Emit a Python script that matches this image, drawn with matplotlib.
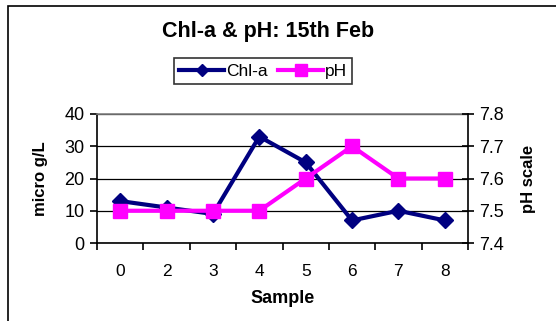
import numpy as np
import matplotlib.pyplot as plt
from matplotlib.patches import Rectangle

plt.rcParams['font.family'] = ['Liberation Sans', 'DejaVu Sans']

# sample numbers and measurements
samples = ['0', '2', '3', '4', '5', '6', '7', '8']
chla = [13, 11, 9, 33, 25, 7, 10, 7]
ph = [7.5, 7.5, 7.5, 7.5, 7.6, 7.7, 7.6, 7.6]

fig = plt.figure(figsize=(5.56, 3.21), dpi=100)
W, H = 556, 321

# chart frame (runs off the right and bottom edge)
fig.patches.append(Rectangle((8 / W, -0.1), 1.2, (H - 6) / H + 0.1,
                             transform=fig.transFigure, fill=False,
                             edgecolor='black', linewidth=1.2))

ax = fig.add_axes([97 / W, 1 - 243 / H, (468 - 97) / W, (243 - 114) / H])
x = np.arange(len(samples))

ax.set_xlim(-0.5, len(samples) - 0.5)
ax.set_ylim(0, 40)
ax.set_yticks([0, 10, 20, 30, 40])
ax.yaxis.grid(True, color='black', linewidth=0.9)
ax.set_axisbelow(True)
ax.spines['right'].set_visible(False)
ax.spines['top'].set_color('#808080')
ax.spines['top'].set_linewidth(1.2)
ax.spines['left'].set_linewidth(1.2)
ax.spines['bottom'].set_linewidth(1.2)

ax.set_xticks(x)
ax.set_xticklabels(samples)
ax.set_xticks(np.arange(-0.5, len(samples), 1), minor=True)
ax.tick_params(axis='x', which='major', length=0, pad=15, labelsize=12.5)
ax.tick_params(axis='x', which='minor', length=5, width=1.2, direction='out')
ax.tick_params(axis='y', length=5, width=1.2, labelsize=13, pad=4)

ln1, = ax.plot(x, chla, color='#000080', linewidth=3, marker='D',
               markersize=8, label='Chl-a', zorder=3)

ax2 = ax.twinx()
ax2.set_ylim(7.4, 7.8)
ax2.set_yticks([7.4, 7.5, 7.6, 7.7, 7.8])
ax2.set_yticklabels(['7.4', '7.5', '7.6', '7.7', '7.8'])
for s in ['top', 'left', 'bottom']:
    ax2.spines[s].set_visible(False)
ax2.spines['right'].set_linewidth(1.2)
ax2.tick_params(axis='y', length=8, width=1.2, direction='inout', labelsize=13, pad=4)
ln2, = ax2.plot(x, ph, color='#FF00FF', linewidth=3, marker='s',
                markersize=10, label='pH', zorder=3)

ax.set_xlabel('Sample', fontsize=13, fontweight='bold', labelpad=8)
ax.set_ylabel('micro g/L', fontsize=12, fontweight='bold', labelpad=12)
ax2.set_ylabel('pH scale', fontsize=12, fontweight='bold', labelpad=12)

fig.text(268 / W, 1 - 31 / H, 'Chl-a & pH: 15th Feb', ha='center', va='center',
         fontsize=15.5, fontweight='bold')

leg = fig.legend(handles=[ln1, ln2], loc='center', bbox_to_anchor=(263 / W, 1 - 71 / H),
                 ncol=2, fontsize=12.5, frameon=True, fancybox=False,
                 handlelength=2.6, handletextpad=0.1, columnspacing=0.6,
                 borderpad=0.3, markerscale=0.8)
leg.get_frame().set_edgecolor('black')
leg.get_frame().set_linewidth(1.2)

fig.savefig('out.png', dpi=100)
